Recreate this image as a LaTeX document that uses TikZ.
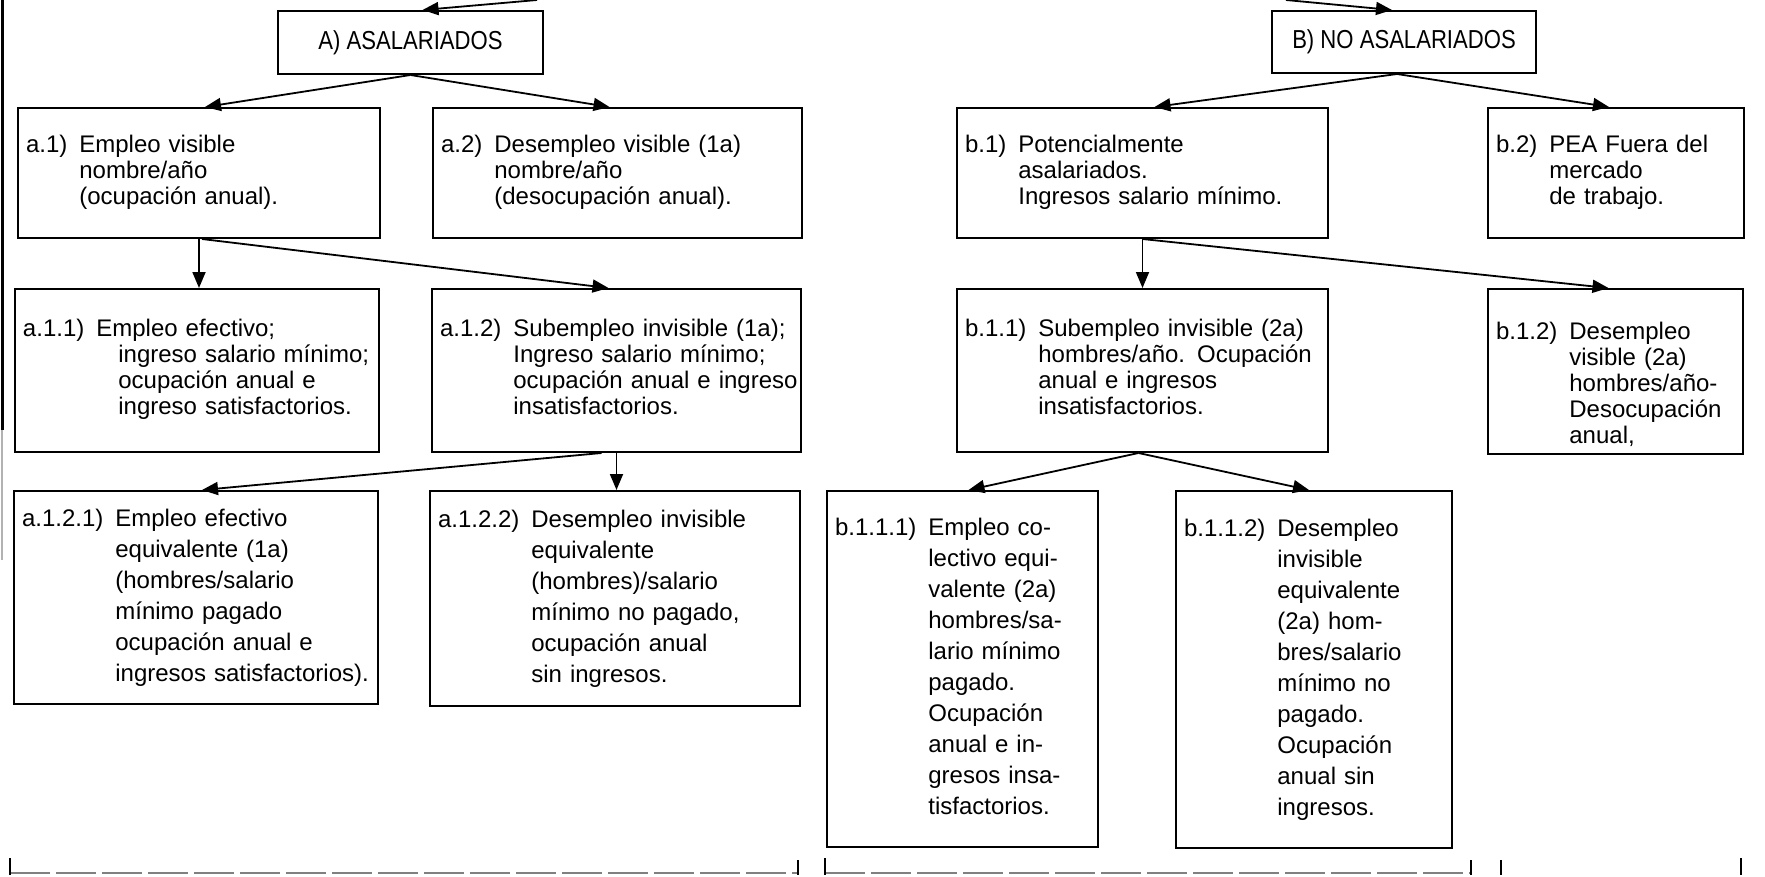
\documentclass[tikz,border=0pt]{standalone}
\usepackage{fontspec}
\setmainfont{Liberation Sans}
\newfontfamily\headfont[FakeStretch=0.85]{Liberation Sans}
\usetikzlibrary{arrows.meta}
\newcommand{\boxtext}[2]{\begin{tabular}{@{}l@{\hspace{12pt}}l@{}}#1 & #2\end{tabular}}

\begin{document}
\begin{tikzpicture}[x=1pt, y=-1pt,
  box/.style = {draw, line width=2pt, anchor=north west, align=left, inner xsep=8pt, inner ysep=0pt, font=\fontsize{24}{26}\selectfont},
  tall/.style = {box, font=\fontsize{24}{31}\selectfont},
  head/.style = {draw, line width=2pt, anchor=north west, font=\headfont\fontsize{26}{28}\selectfont},
  arr/.style = {line width=1.8pt, -{Triangle[length=16pt,width=13pt]}}]
\useasboundingbox (0,0) rectangle (1765,876);

% top level
\coordinate (srcA) at (537,0);
\coordinate (srcB) at (1286,0);
\node[head, minimum width=265pt, minimum height=63pt] (A) at (277,10) {A) ASALARIADOS};
\node[head, minimum width=264pt, minimum height=62pt] (B) at (1271,10) {B) NO ASALARIADOS};

% first level
\node[box, text width=346pt, minimum height=130pt] (a1) at (17,107)
  {\boxtext{a.1)}{Empleo visible\\ & nombre/año\\ & (ocupación anual).}};
\node[box, text width=353pt, minimum height=130pt] (a2) at (432,107)
  {\boxtext{a.2)}{Desempleo visible (1a)\\ & nombre/año\\ & (desocupación anual).}};
\node[box, text width=355pt, minimum height=130pt] (b1) at (956,107)
  {\boxtext{b.1)}{Potencialmente\\ & asalariados.\\ & Ingresos salario mínimo.}};
\node[box, text width=240pt, minimum height=130pt] (b2) at (1487,107)
  {\boxtext{b.2)}{PEA Fuera del\\ & mercado\\ & de trabajo.}};

% second level
\node[box, text width=348pt, minimum height=163pt] (a11) at (14,288)
  {\boxtext{a.1.1)}{Empleo efectivo;\\ & \hspace*{22pt}ingreso salario mínimo;\\ & \hspace*{22pt}ocupación anual e\\ & \hspace*{22pt}ingreso satisfactorios.}};
\node[box, text width=353pt, minimum height=163pt] (a12) at (431,288)
  {\boxtext{a.1.2)}{Subempleo invisible (1a);\\ & Ingreso salario mínimo;\\ & ocupación anual e ingreso\\ & insatisfactorios.}};
\node[box, text width=355pt, minimum height=163pt] (b11) at (956,288)
  {\boxtext{b.1.1)}{Subempleo invisible (2a)\\ & hombres/año. Ocupación\\ & anual e ingresos\\ & insatisfactorios.}};
\node[box, text width=239pt, minimum height=165pt] (b12) at (1487,288)
  {\boxtext{\rule{0pt}{47pt}b.1.2)}{Desempleo\\ & visible (2a)\\ & hombres/año-\\ & Desocupación\\ & anual,}};

% third level
\node[tall, text width=348pt, minimum height=213pt] (a121) at (13,490)
  {\boxtext{a.1.2.1)}{Empleo efectivo\\ & equivalente (1a)\\ & (hombres/salario\\ & mínimo pagado\\ & ocupación anual e\\ & ingresos satisfactorios).}};
\node[tall, text width=354pt, minimum height=215pt] (a122) at (429,490)
  {\boxtext{a.1.2.2)}{Desempleo invisible\\ & equivalente\\ & (hombres)/salario\\ & mínimo no pagado,\\ & ocupación anual\\ & sin ingresos.}};
\node[tall, text width=255pt, minimum height=356pt] (b111) at (826,490)
  {\boxtext{b.1.1.1)}{Empleo co-\\ & lectivo equi-\\ & valente (2a)\\ & hombres/sa-\\ & lario mínimo\\ & pagado.\\ & Ocupación\\ & anual e in-\\ & gresos insa-\\ & tisfactorios.}};
\node[tall, text width=260pt, minimum height=357pt] (b112) at (1175,490)
  {\boxtext{b.1.1.2)}{Desempleo\\ & invisible\\ & equivalente\\ & (2a) hom-\\ & bres/salario\\ & mínimo no\\ & pagado.\\ & Ocupación\\ & anual sin\\ & ingresos.}};

% connectors
\draw[arr] (srcA) -- ([xshift=12pt]A.north);
\draw[arr] (srcB) -- ([xshift=-12pt]B.north);
\draw[arr] (A.south) -- ([xshift=6pt]a1.north);
\draw[arr] (A.south) -- ([xshift=-8pt]a2.north);
\draw[arr] ([xshift=-7pt]B.south) -- ([xshift=12pt]b1.north);
\draw[arr] ([xshift=-7pt]B.south) -- ([xshift=-7pt]b2.north);
\draw[arr] (a1.south) -- (a1.south |- a11.north);
\draw[arr] ([xshift=3pt]a1.south) -- ([xshift=-8pt]a12.north);
\draw[arr] (b1.south) -- (b1.south |- b11.north);
\draw[arr] (b1.south) -- ([xshift=-7pt]b12.north);
\draw[arr] ([xshift=-15pt]a12.south) -- ([xshift=6pt]a121.north);
\draw[arr] (a12.south) -- (a12.south |- a122.north);
\draw[arr] ([xshift=-4pt]b11.south) -- ([xshift=6pt]b111.north);
\draw[arr] ([xshift=-4pt]b11.south) -- ([xshift=-5pt]b112.north);

% page edge and bottom brackets
\draw[line width=3pt] (2,0) -- (2,430);
\draw[line width=2pt, gray!60] (2,430) -- (2,560);
\draw[line width=2pt, gray, dash pattern=on 40pt off 6pt] (10,873) -- (798,873);
\draw[line width=2pt, gray, dash pattern=on 40pt off 6pt] (825,873) -- (1471,873);
\draw[line width=2pt] (10,858) -- (10,875);
\draw[line width=2pt] (798,860) -- (798,875);
\draw[line width=2pt] (825,858) -- (825,875);
\draw[line width=2pt] (1471,860) -- (1471,875);
\draw[line width=2pt] (1501,860) -- (1501,875);
\draw[line width=2pt] (1741,858) -- (1741,875);
\end{tikzpicture}
\end{document}
